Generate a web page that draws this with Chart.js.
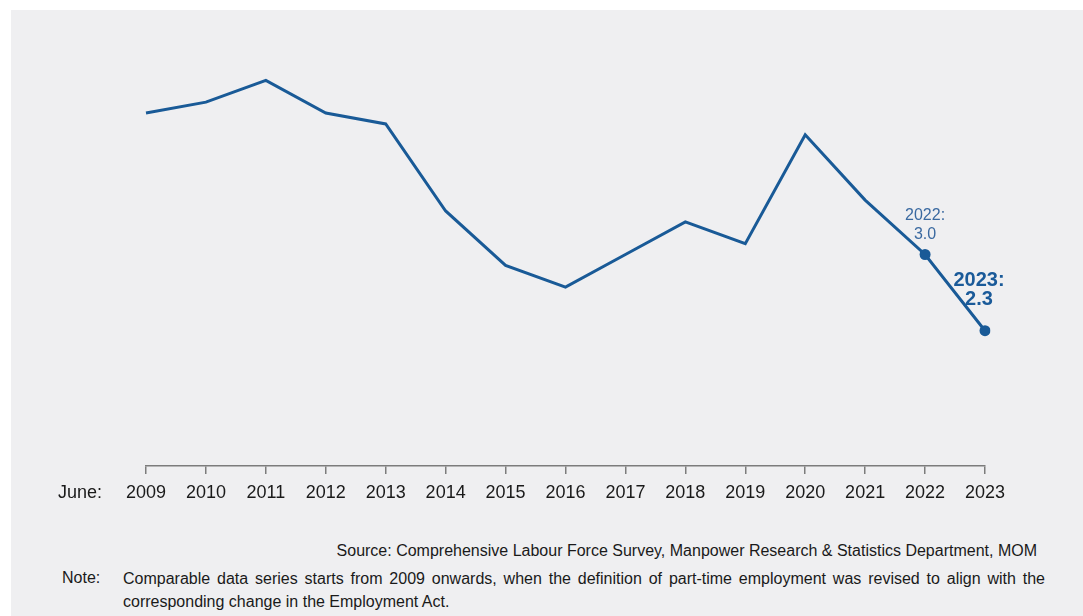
<!DOCTYPE html>
<html>
<head>
<meta charset="utf-8">
<script src="https://cdn.jsdelivr.net/npm/chart.js@4/dist/chart.umd.min.js"></script>
<style>
  html, body { margin: 0; padding: 0; background: #ffffff; }
  body { width: 1083px; height: 616px; position: relative; overflow: hidden;
         font-family: "Liberation Sans", Arial, sans-serif; }
  #panel { position: absolute; left: 11px; top: 10px; right: 0; bottom: 0; background: #efeff1; }
  #wrap { position: absolute; left: 11px; top: 10px; width: 1072px; height: 506px; }
  .source { position: absolute; right: 46px; top: 542px; font-size: 16px; color: #1a1a1a;
            white-space: nowrap; }
  .note-label { position: absolute; left: 62px; top: 569px; font-size: 16px; color: #1a1a1a; }
  .note { position: absolute; left: 123px; top: 567px; width: 922px; font-size: 16px;
          color: #1a1a1a; line-height: 23px; }
  .note .l1 { text-align: justify; text-align-last: justify; }
</style>
</head>
<body>
<div id="panel"></div>
<div id="wrap"><canvas id="chart"></canvas></div>
<div class="source">Source: Comprehensive Labour Force Survey, Manpower Research &amp; Statistics Department, MOM</div>
<div class="note-label">Note:</div>
<div class="note">
  <div class="l1">Comparable data series starts from 2009 onwards, when the definition of part-time employment was revised to align with the</div>
  <div>corresponding change in the Employment Act.</div>
</div>
<script>
const years = ["2009", "2010", "2011", "2012", "2013", "2014", "2015", "2016",
               "2017", "2018", "2019", "2020", "2021", "2022", "2023"];
const rates = [4.3, 4.4, 4.6, 4.3, 4.2, 3.4, 2.9, 2.7, 3.0, 3.3, 3.1, 4.1, 3.5, 3.0, 2.3];
// the last two years get a marker and a value label
const labelledYears = ["2022", "2023"];

const lineBlue = "#195a97";

// value callouts plus the "June:" prefix in front of the year axis
const annotate = {
  id: "annotate",
  afterDatasetsDraw(chart) {
    const ctx = chart.ctx;
    const pts = chart.getDatasetMeta(0).data;
    ctx.save();
    ctx.textAlign = "center";
    ctx.textBaseline = "middle";
    labelledYears.forEach((yr) => {
      const i = years.indexOf(yr);
      const p = pts[i];
      const v = rates[i].toFixed(1);
      if (i === years.length - 1) {
        ctx.fillStyle = "#1a5a99";
        ctx.font = "bold 20px 'Liberation Sans', Arial, sans-serif";
        ctx.fillText(yr + ":", p.x - 6, p.y - 50);
        ctx.fillText(v, p.x - 6, p.y - 31);
      } else {
        ctx.fillStyle = "#3a69a0";
        ctx.font = "16px 'Liberation Sans', Arial, sans-serif";
        ctx.fillText(yr + ":", p.x, p.y - 39);
        ctx.fillText(v, p.x, p.y - 20);
      }
    });
    const xs = chart.scales.x;
    ctx.fillStyle = "#1a1a1a";
    ctx.font = "18px 'Liberation Sans', Arial, sans-serif";
    ctx.textAlign = "right";
    ctx.fillText("June:", chart.chartArea.left - 44, xs.top + 27);
    ctx.restore();
  }
};

new Chart(document.getElementById("chart"), {
  type: "line",
  data: {
    labels: years,
    datasets: [{
      data: rates,
      borderColor: lineBlue,
      backgroundColor: lineBlue,
      borderWidth: 3,
      tension: 0,
      pointRadius: (c) => labelledYears.includes(years[c.dataIndex]) ? 5.5 : 0,
      pointHoverRadius: 0,
      pointBorderWidth: 0
    }]
  },
  options: {
    responsive: true,
    maintainAspectRatio: false,
    animation: false,
    layout: { padding: { left: 135, right: 98, top: 29, bottom: 10 } },
    plugins: { legend: { display: false }, tooltip: { enabled: false } },
    scales: {
      x: {
        offset: false,
        afterFit: (s) => { s.height = 40; },
        border: { display: true, color: "#7c7c7c", width: 1.5 },
        grid: { display: true, drawOnChartArea: false, drawTicks: true,
                tickLength: 8, color: "#7c7c7c", lineWidth: 1.5 },
        ticks: { color: "#1a1a1a", padding: 8, maxRotation: 0, autoSkip: false,
                 font: { family: "'Liberation Sans', Arial, sans-serif", size: 18 } }
      },
      y: {
        display: false,
        min: 1.057,
        max: 4.98
      }
    }
  },
  plugins: [annotate]
});
</script>
</body>
</html>
